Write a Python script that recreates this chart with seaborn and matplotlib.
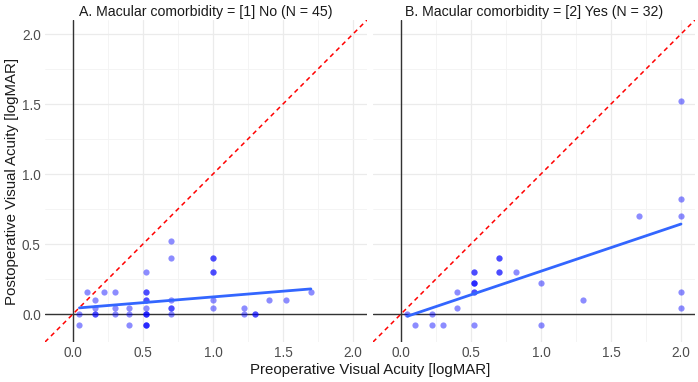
import numpy as np
import pandas as pd
import matplotlib
matplotlib.use("Agg")
import matplotlib.pyplot as plt
import seaborn as sns

# ---- data (logMAR) ----
panel_titles = ["A. Macular comorbidity = [1] No (N = 45)",
                "B. Macular comorbidity = [2] Yes (N = 32)"]

no_pre = [0.699, 0.699, 1.0, 1.0, 0.523, 1.0, 1.0, 0.097, 0.222, 0.301, 0.523, 0.523,
          0.155, 0.523, 0.523, 0.699, 1.0, 1.398, 1.523, 1.699,
          0.155, 0.301, 0.398, 0.523, 0.699, 0.699, 1.0, 1.222,
          0.046, 0.155, 0.155, 0.301, 0.398, 0.523, 0.523, 0.523, 0.699, 1.222, 1.301, 1.301,
          0.046, 0.398, 0.523, 0.523, 0.523]
no_post = [0.523, 0.398, 0.398, 0.398, 0.301, 0.301, 0.301, 0.155, 0.155, 0.155, 0.155, 0.155,
           0.097, 0.097, 0.097, 0.097, 0.097, 0.097, 0.097, 0.155,
           0.046, 0.046, 0.046, 0.046, 0.046, 0.046, 0.046, 0.046,
           0.0, 0.0, 0.0, 0.0, 0.0, 0.0, 0.0, 0.0, 0.0, 0.0, 0.0, 0.0,
           -0.079, -0.079, -0.079, -0.079, -0.079]

yes_pre = [0.046, 0.222, 0.097, 0.222, 0.301, 0.523, 1.0, 0.398, 0.398,
           0.523, 0.523, 0.523, 0.523, 0.523, 1.0, 1.301, 0.523, 0.523,
           0.699, 0.699, 0.824, 0.699, 0.699, 2.0, 2.0, 1.699, 2.0, 2.0, 2.0]
yes_post = [0.0, 0.0, -0.079, -0.079, -0.079, -0.079, -0.079, 0.046, 0.155,
            0.155, 0.155, 0.222, 0.222, 0.222, 0.222, 0.097, 0.301, 0.301,
            0.301, 0.301, 0.301, 0.398, 0.398, 0.824, 0.699, 0.699, 0.155, 0.046, 1.523]

ticks = [0.0, 0.5, 1.0, 1.5, 2.0]
tick_labels = ["0.0", "0.5", "1.0", "1.5", "2.0"]

sns.set_style("white")
plt.rcParams["font.family"] = ["Liberation Sans", "DejaVu Sans"]

fig = plt.figure(figsize=(6.98, 3.82), dpi=100)
W, H = 698, 382
axes = [fig.add_axes([45 / W, 40 / H, 322 / W, 322 / H]),
        fig.add_axes([373 / W, 40 / H, 322 / W, 322 / H])]

datasets = [pd.DataFrame({"pre": no_pre, "post": no_post}),
            pd.DataFrame({"pre": yes_pre, "post": yes_post})]

for ax, df, title in zip(axes, datasets, panel_titles):
    ax.set_xlim(-0.2, 2.1)
    ax.set_ylim(-0.2, 2.1)
    ax.set_facecolor("white")
    for s in ax.spines.values():
        s.set_visible(False)
    ax.set_xticks(ticks)
    ax.set_yticks(ticks)
    ax.set_xticks([0.25, 0.75, 1.25, 1.75], minor=True)
    ax.set_yticks([0.25, 0.75, 1.25, 1.75], minor=True)
    ax.grid(True, which="major", color="#ebebeb", lw=0.9, zorder=0)
    ax.grid(True, which="minor", color="#f3f3f3", lw=0.6, zorder=0)
    ax.set_axisbelow(True)
    ax.tick_params(which="both", length=0, labelsize=9.8, labelcolor="#4d4d4d", pad=3)
    ax.set_xticklabels(tick_labels)
    ax.set_yticklabels(tick_labels)
    ax.axvline(0, color="#333333", lw=1.0, zorder=1)
    ax.axhline(0, color="#333333", lw=1.0, zorder=1)
    ax.axline((0, 0), slope=1, color="red", lw=1.1, linestyle=(0, (3, 2.5)), zorder=2)
    sns.scatterplot(data=df, x="pre", y="post", ax=ax, color="#0000ff", alpha=0.45,
                    s=20, linewidth=0, zorder=3)
    sns.regplot(data=df, x="pre", y="post", ax=ax, scatter=False, ci=None,
                line_kws={"color": "#3366ff", "lw": 2.0, "zorder": 4})
    ax.set_xlabel("")
    ax.set_ylabel("")
    ax.set_title(title, fontsize=10.2, color="#1a1a1a", pad=3)

axes[1].tick_params(labelleft=False)
fig.text(370 / W, 1 - 370 / H, "Preoperative Visual Acuity [logMAR]", ha="center",
         va="center", fontsize=10.8, color="#1a1a1a")
fig.text(12 / W, 1 - 181 / H, "Postoperative Visual Acuity [logMAR]", ha="center",
         va="center", rotation=90, fontsize=10.8, color="#1a1a1a")

fig.savefig("out.png", dpi=100)
